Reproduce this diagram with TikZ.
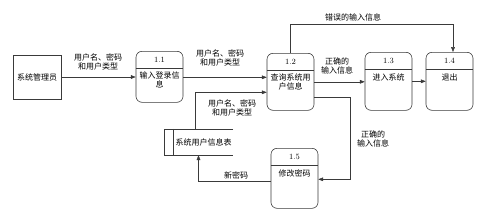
\documentclass[tikz,border=0pt]{standalone}
\usepackage{fontspec}
\newfontfamily\cjk{Noto Sans CJK SC}
\usetikzlibrary{calc,arrows.meta,positioning}
\definecolor{linec}{HTML}{3A3A3A}
\tikzset{
  ar/.style={-{Triangle[length=1.7mm,width=1.3mm]},line width=0.5pt,linec},
  ent/.style={draw=linec,line width=0.6pt,minimum width=48pt,minimum height=44pt,inner sep=0pt},
  procbox/.style={draw=linec,line width=0.6pt,rounded corners=6pt,minimum width=47pt,minimum height=#1,inner sep=0pt,anchor=north},
  lab/.style={font=\cjk\fontsize{8}{9}\selectfont,align=center,inner sep=1pt}
}
% name, x, top, height, number, text
\newcommand{\prc}[6]{\node[procbox=#4] (#1) at (#2,#3) {};
  \draw[linec,line width=0.6pt] ($(#1.north west)+(0,17)$) -- ($(#1.north east)+(0,17)$);
  \node[font=\fontsize{8}{9}\selectfont] (#1n) at ($(#1.north)+(0,9)$) {#5};
  \node[lab,anchor=north] (#1t) at ($(#1.north)+(0,20)$) {#6};}

\begin{document}
\begin{tikzpicture}[x=1pt,y=-1pt]
\useasboundingbox (0,0) rectangle (498,215);
\node[ent,lab] (adm) at (37,77) {系统管理员};
\prc{p11}{159.5}{51}{51pt}{1.1}{输入登录信\\息}
\prc{p12}{290.5}{53}{57pt}{1.2}{查询系统用\\户信息}
\prc{p13}{388.5}{52}{58pt}{1.3}{\\[-2pt]进入系统}
\prc{p14}{449.5}{52}{58pt}{1.4}{\\[-2pt]退出}
\prc{p15}{294.5}{148}{60pt}{1.5}{修改密码}
% data store
\node[minimum width=69pt,minimum height=26pt,inner sep=0pt] (store) at (198.5,142) {};
\draw[linec,line width=0.6pt] (store.north east) -- (store.north west) -- (store.south west) -- (store.south east);
\draw[linec,line width=0.6pt] ($(store.north west)+(9,0)$) -- ($(store.south west)+(9,0)$);
\node[lab] (storet) at ($(store.center)+(5,0)$) {系统用户信息表};
% flows
\draw[ar] (adm.east) -- (adm.east -| p11.west);
\draw[ar] ($(p11.east)+(0,0.5)$) -- ($(p11.east -| p12.west)+(0,0.5)$);
\draw[ar] ($(store.north)+(-3.5,0)$) |- ($(p12.west)+(0,10.5)$);
\draw[ar] ($(p15.west)+(0,3)$) -| (store.south);
\draw[ar] ($(p12.east)+(0,15.5)$) -| ($(p15.east)+(32,1)$) -- ($(p15.east)+(0,1)$);
\draw[ar] (p12.east) -- (p12.east -| p13.west);
\draw[ar] (p13.east) -- (p14.west);
\draw[ar] (p12.north) |- ($(p14.north)+(3.5,-28)$) -- ($(p14.north)+(3.5,0)$);
% labels
\node[lab] (l1) at (98,62) {用户名、密码\\和用户类型};
\node[lab] (l2) at (220,58) {用户名、密码\\和用户类型};
\node[lab] (l3) at (232,108) {用户名、密码\\和用户类型};
\node[lab] (l4) at (236,175) {新密码};
\node[lab] (l5) at (337,66) {正确的\\输入信息};
\node[lab] (l6) at (373,139) {正确的\\输入信息};
\node[lab] (l7) at (353,17) {错误的输入信息};
\end{tikzpicture}
\end{document}
